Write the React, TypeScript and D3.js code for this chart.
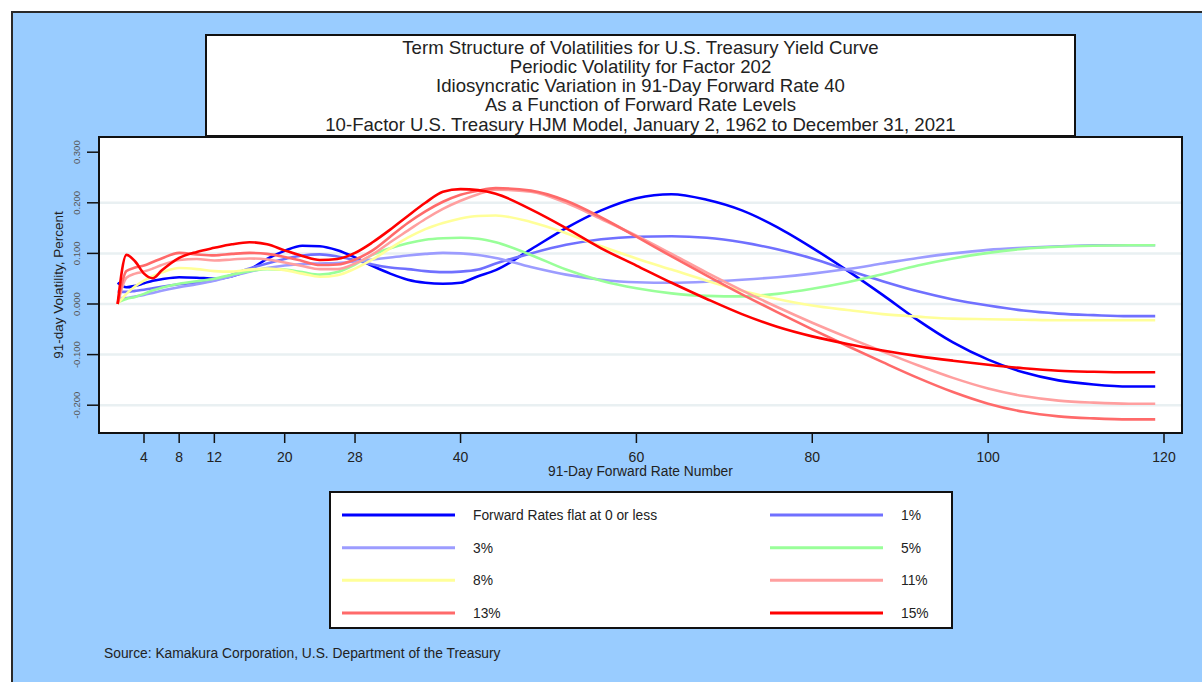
import * as d3 from 'd3';

// Forward rate numbers at which values were read
const rateNumbers = [1, 2, 3, 4, 5, 6, 8, 10, 12, 14, 16, 18, 20, 22, 24, 26, 28, 30, 32, 34, 36, 38, 40, 42, 44, 48, 52, 56, 60, 64, 68, 72, 76, 80, 84, 88, 92, 96, 100, 104, 108, 112, 116, 119];

const flatZero = [0.042, 0.033, 0.036, 0.041, 0.046, 0.049, 0.053, 0.052, 0.050, 0.055, 0.068, 0.089, 0.105, 0.115, 0.114, 0.106, 0.092, 0.075, 0.060, 0.048, 0.042, 0.040, 0.042, 0.055, 0.067, 0.108, 0.150, 0.185, 0.209, 0.217, 0.206, 0.185, 0.152, 0.111, 0.066, 0.018, -0.032, -0.076, -0.110, -0.135, -0.151, -0.159, -0.163, -0.163];
const rate1 = [0.025, 0.024, 0.026, 0.028, 0.031, 0.034, 0.039, 0.042, 0.047, 0.058, 0.070, 0.080, 0.089, 0.096, 0.098, 0.094, 0.087, 0.078, 0.072, 0.069, 0.065, 0.063, 0.064, 0.068, 0.080, 0.100, 0.117, 0.128, 0.133, 0.134, 0.131, 0.122, 0.108, 0.090, 0.067, 0.045, 0.025, 0.009, -0.003, -0.013, -0.019, -0.022, -0.024, -0.024];
const rate3 = [0.012, 0.012, 0.015, 0.018, 0.022, 0.026, 0.033, 0.039, 0.046, 0.055, 0.064, 0.071, 0.076, 0.079, 0.080, 0.081, 0.084, 0.088, 0.092, 0.096, 0.099, 0.101, 0.100, 0.097, 0.091, 0.073, 0.058, 0.048, 0.043, 0.042, 0.044, 0.048, 0.053, 0.060, 0.069, 0.080, 0.091, 0.100, 0.107, 0.111, 0.114, 0.116, 0.116, 0.116];
const rate5 = [0.003, 0.010, 0.014, 0.020, 0.027, 0.032, 0.040, 0.045, 0.050, 0.058, 0.065, 0.069, 0.068, 0.063, 0.058, 0.063, 0.078, 0.097, 0.110, 0.120, 0.127, 0.130, 0.131, 0.129, 0.122, 0.097, 0.068, 0.046, 0.031, 0.021, 0.016, 0.015, 0.020, 0.030, 0.043, 0.059, 0.076, 0.090, 0.101, 0.109, 0.113, 0.115, 0.116, 0.116];
const rate8 = [0.000, 0.020, 0.035, 0.046, 0.055, 0.062, 0.071, 0.069, 0.065, 0.064, 0.068, 0.070, 0.067, 0.060, 0.054, 0.057, 0.070, 0.088, 0.110, 0.131, 0.148, 0.160, 0.169, 0.174, 0.175, 0.162, 0.140, 0.114, 0.090, 0.068, 0.046, 0.026, 0.010, -0.003, -0.012, -0.020, -0.025, -0.029, -0.030, -0.031, -0.032, -0.032, -0.032, -0.032];
const rate11 = [0.000, 0.052, 0.060, 0.064, 0.070, 0.077, 0.087, 0.089, 0.086, 0.088, 0.090, 0.088, 0.082, 0.075, 0.069, 0.069, 0.080, 0.098, 0.122, 0.145, 0.168, 0.188, 0.204, 0.217, 0.226, 0.222, 0.200, 0.168, 0.135, 0.099, 0.062, 0.027, -0.006, -0.037, -0.066, -0.094, -0.121, -0.146, -0.167, -0.182, -0.191, -0.195, -0.197, -0.197];
const rate13 = [0.000, 0.065, 0.072, 0.076, 0.083, 0.090, 0.101, 0.098, 0.096, 0.099, 0.101, 0.099, 0.093, 0.085, 0.077, 0.078, 0.088, 0.106, 0.133, 0.160, 0.183, 0.202, 0.216, 0.224, 0.229, 0.224, 0.204, 0.171, 0.133, 0.094, 0.056, 0.019, -0.016, -0.050, -0.083, -0.115, -0.146, -0.174, -0.197, -0.213, -0.222, -0.226, -0.228, -0.228];
const rate15 = [0.000, 0.097, 0.084, 0.060, 0.051, 0.066, 0.091, 0.103, 0.111, 0.118, 0.122, 0.118, 0.106, 0.095, 0.087, 0.089, 0.101, 0.122, 0.147, 0.174, 0.200, 0.222, 0.227, 0.225, 0.218, 0.187, 0.150, 0.110, 0.076, 0.042, 0.010, -0.020, -0.045, -0.064, -0.079, -0.092, -0.103, -0.112, -0.120, -0.127, -0.132, -0.134, -0.135, -0.135];

const seriesLabels = ['Forward Rates flat at 0 or less', '1%', '3%', '5%', '8%', '11%', '13%', '15%'];
const seriesValues = [flatZero, rate1, rate3, rate5, rate8, rate11, rate13, rate15];
const seriesColors = ['#0000ff', '#7070ff', '#9c9cff', '#99ff99', '#ffff99', '#ff9f9f', '#ff6a6a', '#ff0000'];

const xTicks = [4, 8, 12, 20, 28, 40, 60, 80, 100, 120];
const yTicks = [0.3, 0.2, 0.1, 0, -0.1, -0.2];
const gridValues = [0.2, 0.1, 0, -0.1, -0.2];

const titleLines = [
  'Term Structure of Volatilities for U.S. Treasury Yield Curve',
  'Periodic Volatility for Factor 202',
  'Idiosyncratic Variation in 91-Day Forward Rate 40',
  'As a Function of Forward Rate Levels',
  '10-Factor U.S. Treasury HJM Model, January 2, 1962 to December 31, 2021',
];

const FONT = '"Liberation Sans", Arial, sans-serif';

export default function App() {
  const W = 1202;
  const H = 682;
  const plot = { left: 99, right: 1182, top: 137, bottom: 433 };

  const x = d3.scaleLinear().domain([4, 120]).range([144, 1164]);
  const y = d3.scaleLinear().domain([-0.2, 0.3]).range([405.2, 152.2]);

  const line = d3.line<[number, number]>()
    .x(d => x(d[0]))
    .y(d => y(d[1]))
    .curve(d3.curveMonotoneX);

  const legendRows = [0, 1, 2, 3];
  const legendY = d3.scalePoint<number>().domain(legendRows).range([515, 613]);

  return (
    <svg width={W} height={H} style={{ position: 'absolute', left: 0, top: 0, fontFamily: FONT }}>
      <rect x={0} y={0} width={W} height={H} fill="#ffffff" />
      <rect x={12} y={12} width={W} height={H} fill="#99ccff" stroke="#2a2a2a" strokeWidth={2} />

      {/* title box */}
      <rect x={206} y={35} width={869} height={101} fill="#ffffff" stroke="#111" strokeWidth={2} />
      {titleLines.map((t, i) => (
        <text key={t} x={640.5} y={53.5 + i * 19.25} textAnchor="middle" fontSize={18.6} fill="#222">
          {t}
        </text>
      ))}

      {/* plot area */}
      <rect x={plot.left} y={plot.top} width={plot.right - plot.left} height={plot.bottom - plot.top} fill="#ffffff" stroke="#111" strokeWidth={2} />
      {gridValues.map(v => (
        <line key={v} x1={plot.left + 1} x2={plot.right - 1} y1={y(v)} y2={y(v)} stroke="#e9f0f2" strokeWidth={2.5} />
      ))}

      {/* y axis */}
      {yTicks.map(v => (
        <g key={v}>
          <line x1={87} x2={plot.left} y1={y(v)} y2={y(v)} stroke="#111" strokeWidth={1.5} />
          <text
            transform={`translate(79.5,${y(v)}) rotate(-90)`}
            textAnchor="middle"
            fontSize={9.5}
            fill="#555"
          >
            {d3.format('.3f')(v).replace('−', '-')}
          </text>
        </g>
      ))}
      <text transform={`translate(62.5,285) rotate(-90)`} textAnchor="middle" fontSize={13.5} fill="#222">
        91-day Volatility, Percent
      </text>

      {/* x axis */}
      {xTicks.map(v => (
        <g key={v}>
          <line x1={x(v)} x2={x(v)} y1={plot.bottom} y2={443} stroke="#111" strokeWidth={1.5} />
          <text x={x(v)} y={462} textAnchor="middle" fontSize={14} fill="#222">{v}</text>
        </g>
      ))}
      <text x={640.5} y={476} textAnchor="middle" fontSize={13.8} fill="#222">91-Day Forward Rate Number</text>

      {/* curves */}
      <g>
        {seriesValues.map((vals, i) => (
          <path
            key={seriesLabels[i]}
            d={line(rateNumbers.map((r, j) => [r, vals[j]] as [number, number])) || ''}
            fill="none"
            stroke={seriesColors[i]}
            strokeWidth={2.6}
          />
        ))}
      </g>

      {/* legend */}
      <rect x={330} y={492} width={622} height={136} fill="#ffffff" stroke="#111" strokeWidth={2} />
      {seriesLabels.map((label, i) => {
        const row = Math.floor(i / 2);
        const col = i % 2;
        const ly = legendY(row) || 0;
        const x0 = col === 0 ? 342 : 770;
        const tx = col === 0 ? 473 : 901;
        return (
          <g key={label}>
            <line x1={x0} x2={x0 + 113} y1={ly} y2={ly} stroke={seriesColors[i]} strokeWidth={3} />
            <text x={tx} y={ly + 5} fontSize={13.8} fill="#222">{label}</text>
          </g>
        );
      })}

      <text x={104} y={658} fontSize={13.8} fill="#222">Source: Kamakura Corporation, U.S. Department of the Treasury</text>
    </svg>
  );
}
